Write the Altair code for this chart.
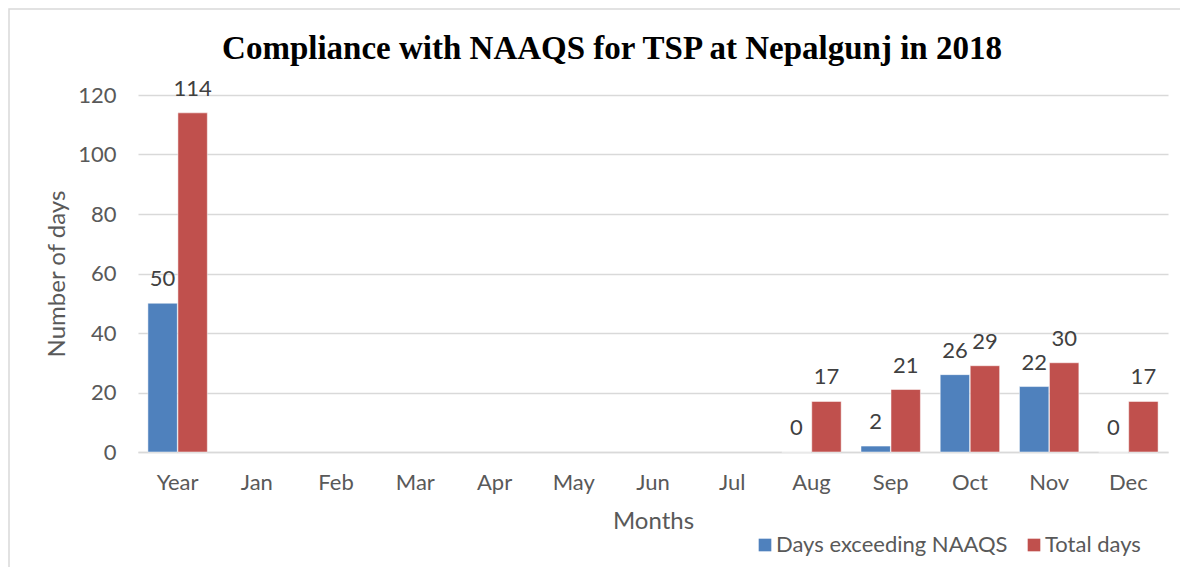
import altair as alt
import pandas as pd

months = ["Year", "Jan", "Feb", "Mar", "Apr", "May", "Jun", "Jul", "Aug", "Sep", "Oct", "Nov", "Dec"]
data_months = ["Year", "Aug", "Sep", "Oct", "Nov", "Dec"]
exceeding = [50, 0, 2, 26, 22, 0]
total = [114, 17, 21, 29, 30, 17]
series = ["Days exceeding NAAQS", "Total days"]
colors = ["#4F81BD", "#C0504D"]

rows = []
for m, e, t in zip(data_months, exceeding, total):
    rows.append({"Month": m, "Series": series[0], "Days": e})
    rows.append({"Month": m, "Series": series[1], "Days": t})
df = pd.DataFrame(rows)

FONT = "Lato"
GRAY = "#595959"

x = alt.X("Month:N", sort=months, scale=alt.Scale(domain=months, paddingInner=0.25, paddingOuter=0.125),
          axis=alt.Axis(title="Months", labelAngle=0, labelFontSize=22, labelColor=GRAY, labelFont=FONT,
                        ticks=False, domainColor="#d9d9d9", domainWidth=1.5, labelPadding=20,
                        titleFontSize=24, titleFont=FONT, titleColor=GRAY, titleFontWeight="normal",
                        titlePadding=16))
xo = alt.XOffset("Series:N", sort=series, scale=alt.Scale(domain=series, paddingInner=0.02))

base = alt.Chart(df)

bars = base.mark_bar(stroke="white", strokeWidth=0.5).encode(
    x=x,
    xOffset=xo,
    y=alt.Y("Days:Q", scale=alt.Scale(domain=[0, 120]),
            axis=alt.Axis(title="Number of days", values=[0, 20, 40, 60, 80, 100, 120], labelFontSize=22,
                          labelColor=GRAY, labelFont=FONT, ticks=False, domain=False, gridColor="#d9d9d9",
                          gridWidth=1.5, labelPadding=22, titleFontSize=24, titleFont=FONT,
                          titleColor=GRAY, titleFontWeight="normal", titlePadding=8)),
    color=alt.Color("Series:N", sort=series, scale=alt.Scale(domain=series, range=colors),
                    legend=alt.Legend(title=None, orient="none", legendX=616, legendY=439,
                                      direction="horizontal", symbolType="square", symbolSize=160,
                                      symbolStrokeWidth=0, labelFontSize=22, labelFont=FONT,
                                      labelColor=GRAY, columnPadding=15, labelOffset=0, labelLimit=400)),
)

labels = base.mark_text(baseline="bottom", dy=-12, fontSize=22, font=FONT, color="#404040").encode(
    x=alt.X("Month:N", sort=months),
    xOffset=xo,
    y="Days:Q",
    text="Days:Q",
)

frame = alt.Chart(pd.DataFrame({"a": [0]})).mark_rect(fill=None, stroke="#d9d9d9", strokeWidth=1.5, clip=False).encode(
    x=alt.value(-129), x2=alt.value(1200), y=alt.value(-86), y2=alt.value(600)
)

chart = alt.layer(frame, bars, labels).properties(
    width=1030,
    height=357,
    padding={"left": 130, "top": 87, "right": 12, "bottom": 115},
    autosize=alt.AutoSizeParams(type="none"),
    title=alt.Title("Compliance with NAAQS for TSP at Nepalgunj in 2018", font="Liberation Serif",
                    fontSize=33, fontWeight="bold", color="black", anchor="middle", frame="group",
                    dx=-41, dy=88, offset=30),
).configure_view(stroke=None)

chart.save("out.html", embed_options={"renderer": "svg", "actions": False})
